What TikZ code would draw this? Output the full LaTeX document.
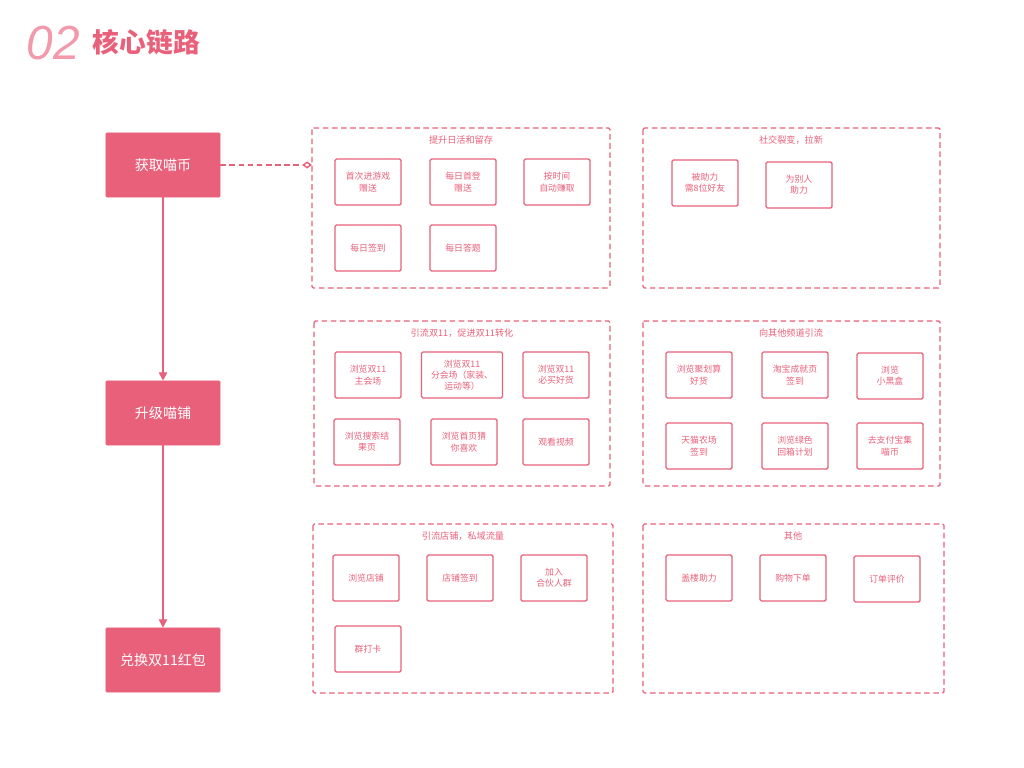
\documentclass[tikz,border=0pt]{standalone}
\usepackage{fontspec}
\setmainfont{Liberation Sans}
\newfontfamily\cjk{Noto Sans CJK SC}
\usetikzlibrary{arrows.meta}
\definecolor{pinkred}{HTML}{E8607A}
\definecolor{pinkline}{HTML}{E6617A}
\definecolor{pinklight}{HTML}{F29AAB}
\tikzset{
  mainbox/.style={draw=pinkred, fill=pinkred, text=white, minimum width=2.85cm, minimum height=1.6cm, font=\cjk\fontsize{10}{12}\selectfont, rounded corners=0.5pt},
  item/.style={draw=pinkline, line width=0.9pt, rounded corners=1pt, text=pinkred, align=center, minimum height=1.15cm, inner sep=1pt, font=\cjk\fontsize{6.3}{8}\selectfont},
  group/.style={draw=pinkline, dash pattern=on 4pt off 2.5pt, line width=0.9pt, rounded corners=1pt},
  gtitle/.style={text=pinkred, font=\cjk\fontsize{6.5}{8}\selectfont},
}
\begin{document}
\begin{tikzpicture}[x=0.025cm, y=-0.025cm]
  \useasboundingbox (0,0) rectangle (1024,768);

  % Title
  \node[anchor=west, text=pinklight, font=\fontsize{34}{36}\selectfont\itshape] (num) at (22,43) {02};
  \node[anchor=west, text=pinkred, font=\cjk\bfseries\fontsize{19}{22}\selectfont] (ttl) at (88,42) {核心链路};

  % Main chain
  \node[mainbox] (coin) at (163,165) {获取喵币};
  \node[mainbox] (shop) at (163,413) {升级喵铺};
  \node[mainbox] (red) at (163,660) {兑换双11红包};
  \draw[pinkline, line width=1pt, -{Triangle[length=6pt, width=6pt]}] (coin) -- (shop);
  \draw[pinkline, line width=1pt, -{Triangle[length=6pt, width=6pt]}] (shop) -- (red);

  % Groups
  \draw[group] (312,128) rectangle (610,288);
  \node[gtitle] (t1) at (461,140) {提升日活和留存};
  \draw[group] (643,128) rectangle (940,288);
  \node[gtitle] (t2) at (791,140) {社交裂变，拉新};
  \draw[group] (314,321) rectangle (610,486);
  \node[gtitle] (t3) at (462,333) {引流双11，促进双11转化};
  \draw[group] (643,321) rectangle (940,486);
  \node[gtitle] (t4) at (791,333) {向其他频道引流};
  \draw[group] (313,524) rectangle (613,693);
  \node[gtitle] (t5) at (463,536) {引流店铺，私域流量};
  \draw[group] (643,524) rectangle (944,693);
  \node[gtitle] (t6) at (793,536) {其他};

  \coordinate (g1in) at (312,165);
  \draw[pinkline, dash pattern=on 4pt off 2.5pt, line width=1pt, -{Diamond[open, length=7pt, width=5pt]}] (coin) -- (g1in);

  % Items: daily
  \node[item, minimum width=1.65cm] (a1) at (368,182) {首次进游戏\\赠送};
  \node[item, minimum width=1.65cm] (a2) at (463,182) {每日首登\\赠送};
  \node[item, minimum width=1.65cm] (a3) at (557,182) {按时间\\自动赚取};
  \node[item, minimum width=1.65cm] (a4) at (368,248) {每日签到};
  \node[item, minimum width=1.65cm] (a5) at (463,248) {每日答题};

  % Items: social
  \node[item, minimum width=1.65cm] (b1) at (705,183) {被助力\\需8位好友};
  \node[item, minimum width=1.65cm] (b2) at (799,185) {为别人\\助力};

  % Items: double 11
  \node[item, minimum width=1.65cm] (c1) at (368,375) {浏览双11\\主会场};
  \node[item, minimum width=2.02cm] (c2) at (462,375) {浏览双11\\分会场（家装、\\运动等）};
  \node[item, minimum width=1.65cm] (c3) at (556,375) {浏览双11\\必买好货};
  \node[item, minimum width=1.65cm] (c4) at (367,442) {浏览搜索结\\果页};
  \node[item, minimum width=1.65cm] (c5) at (464,442) {浏览首页猜\\你喜欢};
  \node[item, minimum width=1.65cm] (c6) at (556,442) {观看视频};

  % Items: channels
  \node[item, minimum width=1.65cm] (d1) at (699,375) {浏览聚划算\\好货};
  \node[item, minimum width=1.65cm] (d2) at (795,375) {淘宝成就页\\签到};
  \node[item, minimum width=1.65cm] (d3) at (890,376) {浏览\\小黑盒};
  \node[item, minimum width=1.65cm] (d4) at (699,446) {天猫农场\\签到};
  \node[item, minimum width=1.65cm] (d5) at (795,446) {浏览绿色\\回箱计划};
  \node[item, minimum width=1.65cm] (d6) at (890,446) {去支付宝集\\喵币};

  % Items: shops
  \node[item, minimum width=1.65cm] (e1) at (366,578) {浏览店铺};
  \node[item, minimum width=1.65cm] (e2) at (460,578) {店铺签到};
  \node[item, minimum width=1.65cm] (e3) at (554,578) {加入\\合伙人群};
  \node[item, minimum width=1.65cm] (e4) at (368,649) {群打卡};

  % Items: others
  \node[item, minimum width=1.65cm] (f1) at (699,578) {盖楼助力};
  \node[item, minimum width=1.65cm] (f2) at (793,578) {购物下单};
  \node[item, minimum width=1.65cm] (f3) at (887,579) {订单评价};
\end{tikzpicture}
\end{document}
